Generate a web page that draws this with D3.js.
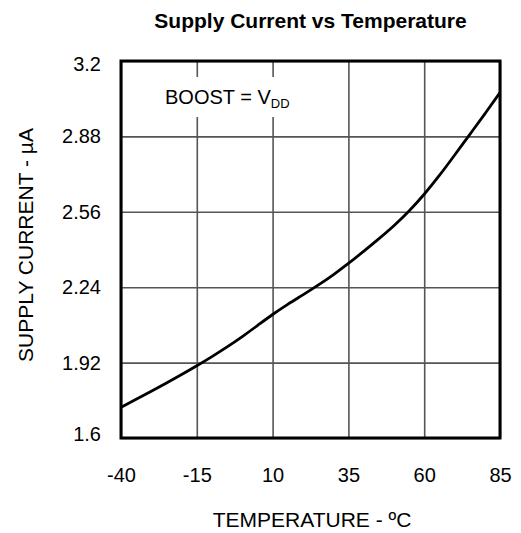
<!DOCTYPE html>
<html>
<head>
<meta charset="utf-8">
<script src="https://cdn.jsdelivr.net/npm/d3@7"></script>
<style>
  html, body { margin: 0; padding: 0; background: #fff; }
  svg { display: block; font-family: "Liberation Sans", Arial, sans-serif; }
</style>
</head>
<body>
<svg id="chart" width="521" height="533"></svg>
<script>
// ---- data ----
const temperatures = [-40, -35, -30, -25, -20, -15, -10, -5, 0, 5, 10, 15, 20, 25, 30, 35, 40, 45, 50, 55, 60, 65, 70, 75, 80, 85];
const supplyCurrent = [1.73, 1.764, 1.798, 1.833, 1.869, 1.906, 1.945, 1.986, 2.03, 2.077, 2.125, 2.168, 2.207, 2.248, 2.292, 2.34, 2.392, 2.445, 2.50, 2.562, 2.633, 2.713, 2.80, 2.888, 2.975, 3.066];
const xTicks = [-40, -15, 10, 35, 60, 85];
const yTicks = [1.6, 1.92, 2.24, 2.56, 2.88, 3.2];
const yTickLabels = ["1.6", "1.92", "2.24", "2.56", "2.88", "3.2"];
const titleText = "Supply Current vs Temperature";
const xLabel = "TEMPERATURE - ºC";
const yLabel = "SUPPLY CURRENT - µA";

// ---- layout ----
const pLeft = 121, pRight = 500, pTop = 61, pBottom = 438;
const W = pRight - pLeft, H = pBottom - pTop;
const FONT = "'Liberation Sans', Arial, sans-serif";
const svg = d3.select("#chart");

const x = d3.scaleLinear().domain([-40, 85]).range([pLeft, pRight]);
const y = d3.scaleLinear().domain([1.6, 3.2]).range([pBottom, pTop]);

// gridlines
const gx = svg.append("g").attr("transform", `translate(0,${pBottom})`)
  .call(d3.axisBottom(x).tickValues(xTicks).tickSize(-H).tickFormat(""));
gx.select(".domain").remove();
gx.selectAll("line").attr("stroke", "#555").attr("stroke-width", 1.6);

const gy = svg.append("g").attr("transform", `translate(${pLeft},0)`)
  .call(d3.axisLeft(y).tickValues(yTicks).tickSize(-W).tickFormat(""));
gy.select(".domain").remove();
gy.selectAll("line").attr("stroke", "#555").attr("stroke-width", 1.6);

// tick labels
const ax = svg.append("g").attr("transform", `translate(0,${pBottom})`)
  .call(d3.axisBottom(x).tickValues(xTicks).tickSize(0).tickPadding(30).tickFormat(d => String(d)));
ax.select(".domain").remove();
ax.selectAll("text").attr("font-size", 20).attr("fill", "#000").attr("font-family", FONT);

const ay = svg.append("g").attr("transform", `translate(${pLeft},0)`)
  .call(d3.axisLeft(y).tickValues(yTicks).tickSize(0).tickPadding(20)
    .tickFormat((d, i) => yTickLabels[i]));
ay.select(".domain").remove();
ay.selectAll("text").attr("font-size", 20).attr("fill", "#000").attr("font-family", FONT)
  .attr("dy", (d, i) => i === 0 ? "0.1em" : (i === yTicks.length - 1 ? "0.48em" : "0.32em"));

// annotation with white background
const ann = svg.append("g");
const annText = ann.append("text")
  .attr("x", 165).attr("y", 104)
  .attr("font-size", 20).attr("fill", "#000").attr("font-family", FONT);
annText.append("tspan").text("BOOST = V");
annText.append("tspan").attr("font-size", 13).attr("dy", 4).text("DD");
const bb = annText.node().getBBox();
ann.insert("rect", "text")
  .attr("x", bb.x - 6).attr("y", 77)
  .attr("width", bb.width + 10).attr("height", 40)
  .attr("fill", "#fff");

// curve
const pts = temperatures.map((t, i) => [t, supplyCurrent[i]]);
svg.append("path")
  .datum(pts)
  .attr("fill", "none")
  .attr("stroke", "#000")
  .attr("stroke-width", 2.8)
  .attr("stroke-linejoin", "round")
  .attr("d", d3.line().x(d => x(d[0])).y(d => y(d[1])).curve(d3.curveBasis));

// frame
svg.append("rect")
  .attr("x", pLeft).attr("y", pTop).attr("width", W).attr("height", H)
  .attr("fill", "none").attr("stroke", "#000").attr("stroke-width", 3);

// title and axis labels
svg.append("text").attr("x", 310.5).attr("y", 28)
  .attr("text-anchor", "middle").attr("font-size", 21).attr("font-weight", "bold").attr("font-family", FONT)
  .text(titleText);
svg.append("text").attr("x", 312).attr("y", 527)
  .attr("text-anchor", "middle").attr("font-size", 21).attr("font-family", FONT)
  .text(xLabel);
svg.append("text").attr("transform", `translate(33,245) rotate(-90)`)
  .attr("text-anchor", "middle").attr("font-size", 21).attr("font-family", FONT)
  .text(yLabel);
</script>
</body>
</html>
